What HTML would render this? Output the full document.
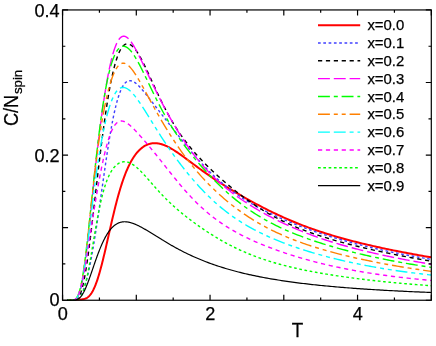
<!DOCTYPE html>
<html><head><meta charset="utf-8"><title>C/N_spin vs T</title>
<style>
html,body{margin:0;padding:0;background:#fff;}
body{width:436px;height:346px;overflow:hidden;}
svg{display:block;will-change:transform;opacity:0.999;}
text{font-family:"Liberation Sans",sans-serif;fill:#000;stroke:#000;stroke-width:0.25px;}
</style></head><body>
<svg width="436" height="346" viewBox="0 0 436 346">
<rect x="0" y="0" width="436" height="346" fill="#fff"/>
<defs><clipPath id="pc"><rect x="62.55" y="9.95" width="368.75" height="290.80"/></clipPath></defs>

<g clip-path="url(#pc)" fill="none" stroke-linejoin="round">
<path d="M66.97 300.25 L67.38 300.25 L67.79 300.25 L68.20 300.25 L68.60 300.25 L69.01 300.24 L69.42 300.24 L69.82 300.24 L70.23 300.23 L70.64 300.22 L71.05 300.20 L71.45 300.19 L71.86 300.17 L72.27 300.14 L72.67 300.12 L73.08 300.09 L73.49 300.06 L73.90 300.03 L74.30 299.99 L74.71 299.96 L75.12 299.92 L75.52 299.89 L75.93 299.85 L76.34 299.82 L76.74 299.78 L77.15 299.75 L77.56 299.72 L77.97 299.69 L78.37 299.66 L78.78 299.63 L79.19 299.61 L79.59 299.58 L80.00 299.55 L80.41 299.52 L80.82 299.49 L81.22 299.46 L81.63 299.42 L82.04 299.37 L82.44 299.32 L82.85 299.26 L83.26 299.19 L83.67 299.11 L84.07 299.01 L84.48 298.90 L84.89 298.77 L85.29 298.63 L85.70 298.46 L86.11 298.28 L86.51 298.07 L86.92 297.83 L87.33 297.57 L87.74 297.28 L88.14 296.97 L88.55 296.62 L88.96 296.24 L89.36 295.83 L89.77 295.38 L90.18 294.90 L90.59 294.38 L90.99 293.82 L91.40 293.22 L91.81 292.59 L92.21 291.91 L92.62 291.19 L93.03 290.43 L93.44 289.64 L93.84 288.79 L94.25 287.91 L94.66 286.99 L95.06 286.02 L95.47 285.01 L95.88 283.96 L96.28 282.87 L96.69 281.73 L97.10 280.56 L97.51 279.35 L97.91 278.09 L98.32 276.80 L98.73 275.48 L99.13 274.11 L99.54 272.71 L99.95 271.28 L100.36 269.82 L100.76 268.32 L101.17 266.79 L101.58 265.23 L101.98 263.65 L102.39 262.04 L102.80 260.41 L103.21 258.75 L103.61 257.07 L104.02 255.37 L104.43 253.66 L104.83 251.93 L105.24 250.18 L105.65 248.42 L106.05 246.65 L106.46 244.87 L106.87 243.08 L107.28 241.29 L107.68 239.49 L108.09 237.69 L108.50 235.88 L108.90 234.08 L109.31 232.28 L109.72 230.48 L110.13 228.68 L110.53 226.90 L110.94 225.12 L111.35 223.34 L111.75 221.58 L112.16 219.83 L112.57 218.09 L112.97 216.37 L113.38 214.65 L113.79 212.96 L114.20 211.28 L114.60 209.62 L115.01 207.98 L115.42 206.35 L115.82 204.75 L116.23 203.16 L116.64 201.60 L117.05 200.06 L117.45 198.54 L117.86 197.05 L118.27 195.57 L118.67 194.12 L119.08 192.70 L119.49 191.29 L119.90 189.92 L120.30 188.56 L120.71 187.23 L121.12 185.93 L121.52 184.65 L121.93 183.40 L122.34 182.17 L122.74 180.96 L123.15 179.78 L123.56 178.63 L123.97 177.50 L124.37 176.39 L124.78 175.31 L125.19 174.25 L125.59 173.21 L126.00 172.20 L126.41 171.21 L126.82 170.25 L127.22 169.30 L127.63 168.38 L128.04 167.48 L128.44 166.61 L128.85 165.75 L129.26 164.92 L129.67 164.11 L130.07 163.31 L130.48 162.54 L130.89 161.79 L131.29 161.06 L131.70 160.34 L132.11 159.65 L132.51 158.97 L132.92 158.32 L133.33 157.68 L133.74 157.05 L134.14 156.45 L134.55 155.86 L134.96 155.29 L135.36 154.74 L135.77 154.20 L136.18 153.68 L136.59 153.17 L136.99 152.68 L137.40 152.20 L137.81 151.74 L138.21 151.29 L138.62 150.86 L139.03 150.44 L139.44 150.04 L139.84 149.65 L140.25 149.27 L140.66 148.90 L141.06 148.55 L141.47 148.21 L141.88 147.89 L142.28 147.57 L142.69 147.27 L143.10 146.98 L143.51 146.70 L143.91 146.44 L144.32 146.18 L144.73 145.94 L145.13 145.71 L145.54 145.49 L145.95 145.28 L146.36 145.08 L146.76 144.89 L147.17 144.72 L147.58 144.55 L147.98 144.39 L148.39 144.24 L148.80 144.11 L149.20 143.98 L149.61 143.86 L150.02 143.76 L150.43 143.66 L150.83 143.57 L151.24 143.49 L151.65 143.42 L152.05 143.36 L152.46 143.31 L152.87 143.26 L153.28 143.23 L153.68 143.20 L154.09 143.19 L154.50 143.18 L154.90 143.17 L155.31 143.18 L155.72 143.20 L156.13 143.22 L156.53 143.25 L156.94 143.29 L157.35 143.33 L157.75 143.39 L158.16 143.45 L158.57 143.52 L158.97 143.59 L159.38 143.67 L159.79 143.76 L160.20 143.86 L160.60 143.96 L161.01 144.07 L161.42 144.18 L161.82 144.30 L162.23 144.43 L162.64 144.56 L163.05 144.70 L163.45 144.85 L163.86 145.00 L164.27 145.15 L164.67 145.32 L165.08 145.48 L165.49 145.66 L165.90 145.83 L166.30 146.01 L166.71 146.20 L167.12 146.39 L167.52 146.59 L167.93 146.79 L168.34 147.00 L168.74 147.21 L169.15 147.42 L169.56 147.64 L169.97 147.86 L170.37 148.08 L170.78 148.31 L171.19 148.55 L171.59 148.78 L172.00 149.02 L172.41 149.27 L172.82 149.51 L173.22 149.76 L173.63 150.01 L174.04 150.27 L174.44 150.53 L174.85 150.79 L175.26 151.05 L175.67 151.32 L176.07 151.58 L176.48 151.85 L176.89 152.13 L177.29 152.40 L177.70 152.68 L178.11 152.96 L178.51 153.24 L178.92 153.52 L179.33 153.80 L179.74 154.09 L180.14 154.37 L180.55 154.66 L182.35 155.96 L184.16 157.27 L185.96 158.60 L187.77 159.94 L189.57 161.28 L191.37 162.63 L193.18 163.97 L194.98 165.31 L196.79 166.64 L198.59 167.96 L200.39 169.28 L202.20 170.58 L204.00 171.86 L205.81 173.14 L207.61 174.40 L209.41 175.64 L211.22 176.88 L213.02 178.10 L214.83 179.30 L216.63 180.49 L218.43 181.67 L220.24 182.84 L222.04 184.00 L223.84 185.14 L225.65 186.27 L227.45 187.39 L229.26 188.50 L231.06 189.60 L232.86 190.69 L234.67 191.78 L236.47 192.85 L238.28 193.91 L240.08 194.96 L241.88 196.00 L243.69 197.04 L245.49 198.06 L247.30 199.08 L249.10 200.09 L250.90 201.08 L252.71 202.07 L254.51 203.05 L256.32 204.02 L258.12 204.98 L259.92 205.93 L261.73 206.87 L263.53 207.80 L265.34 208.72 L267.14 209.63 L268.94 210.53 L270.75 211.42 L272.55 212.30 L274.36 213.17 L276.16 214.02 L277.96 214.87 L279.77 215.70 L281.57 216.53 L283.38 217.34 L285.18 218.14 L286.98 218.94 L288.79 219.72 L290.59 220.49 L292.40 221.25 L294.20 221.99 L296.00 222.73 L297.81 223.46 L299.61 224.17 L301.42 224.88 L303.22 225.57 L305.02 226.25 L306.83 226.93 L308.63 227.59 L310.43 228.25 L312.24 228.89 L314.04 229.52 L315.85 230.15 L317.65 230.76 L319.45 231.37 L321.26 231.97 L323.06 232.56 L324.87 233.14 L326.67 233.71 L328.47 234.27 L330.28 234.82 L332.08 235.37 L333.89 235.91 L335.69 236.44 L337.49 236.96 L339.30 237.48 L341.10 237.99 L342.91 238.49 L344.71 238.99 L346.51 239.48 L348.32 239.96 L350.12 240.44 L351.93 240.91 L353.73 241.37 L355.53 241.83 L357.34 242.28 L359.14 242.73 L360.95 243.17 L362.75 243.61 L364.55 244.04 L366.36 244.47 L368.16 244.89 L369.97 245.31 L371.77 245.72 L373.57 246.13 L375.38 246.54 L377.18 246.94 L378.99 247.33 L380.79 247.72 L382.59 248.11 L384.40 248.49 L386.20 248.87 L388.01 249.25 L389.81 249.62 L391.61 249.99 L393.42 250.36 L395.22 250.72 L397.02 251.08 L398.83 251.44 L400.63 251.79 L402.44 252.14 L404.24 252.49 L406.04 252.83 L407.85 253.17 L409.65 253.51 L411.46 253.84 L413.26 254.17 L415.06 254.50 L416.87 254.83 L418.67 255.15 L420.48 255.48 L422.28 255.79 L424.08 256.11 L425.89 256.42 L427.69 256.74 L429.50 257.04 L431.30 257.35" stroke="#ff0000" stroke-width="2"/>
<path d="M66.97 300.25 L67.38 300.25 L67.79 300.25 L68.20 300.25 L68.60 300.25 L69.01 300.25 L69.42 300.25 L69.82 300.25 L70.23 300.25 L70.64 300.25 L71.05 300.25 L71.45 300.24 L71.86 300.24 L72.27 300.23 L72.67 300.22 L73.08 300.20 L73.49 300.18 L73.90 300.14 L74.30 300.10 L74.71 300.03 L75.12 299.96 L75.52 299.86 L75.93 299.74 L76.34 299.59 L76.74 299.41 L77.15 299.20 L77.56 298.96 L77.97 298.68 L78.37 298.35 L78.78 297.98 L79.19 297.57 L79.59 297.10 L80.00 296.58 L80.41 296.01 L80.82 295.38 L81.22 294.70 L81.63 293.95 L82.04 293.15 L82.44 292.28 L82.85 291.35 L83.26 290.36 L83.67 289.30 L84.07 288.18 L84.48 286.99 L84.89 285.74 L85.29 284.43 L85.70 283.05 L86.11 281.61 L86.51 280.11 L86.92 278.55 L87.33 276.92 L87.74 275.24 L88.14 273.50 L88.55 271.69 L88.96 269.84 L89.36 267.92 L89.77 265.96 L90.18 263.94 L90.59 261.87 L90.99 259.74 L91.40 257.57 L91.81 255.36 L92.21 253.09 L92.62 250.78 L93.03 248.43 L93.44 246.03 L93.84 243.60 L94.25 241.12 L94.66 238.61 L95.06 236.06 L95.47 233.48 L95.88 230.86 L96.28 228.22 L96.69 225.54 L97.10 222.83 L97.51 220.10 L97.91 217.35 L98.32 214.57 L98.73 211.77 L99.13 208.95 L99.54 206.12 L99.95 203.27 L100.36 200.42 L100.76 197.55 L101.17 194.67 L101.58 191.79 L101.98 188.91 L102.39 186.03 L102.80 183.15 L103.21 180.28 L103.61 177.41 L104.02 174.55 L104.43 171.71 L104.83 168.88 L105.24 166.07 L105.65 163.28 L106.05 160.51 L106.46 157.76 L106.87 155.05 L107.28 152.36 L107.68 149.70 L108.09 147.08 L108.50 144.50 L108.90 141.95 L109.31 139.44 L109.72 136.98 L110.13 134.56 L110.53 132.18 L110.94 129.86 L111.35 127.58 L111.75 125.35 L112.16 123.17 L112.57 121.05 L112.97 118.97 L113.38 116.96 L113.79 114.99 L114.20 113.09 L114.60 111.24 L115.01 109.45 L115.42 107.72 L115.82 106.04 L116.23 104.42 L116.64 102.86 L117.05 101.36 L117.45 99.92 L117.86 98.54 L118.27 97.21 L118.67 95.94 L119.08 94.73 L119.49 93.58 L119.90 92.48 L120.30 91.44 L120.71 90.45 L121.12 89.52 L121.52 88.64 L121.93 87.81 L122.34 87.03 L122.74 86.31 L123.15 85.63 L123.56 85.01 L123.97 84.43 L124.37 83.90 L124.78 83.41 L125.19 82.97 L125.59 82.57 L126.00 82.21 L126.41 81.89 L126.82 81.62 L127.22 81.38 L127.63 81.18 L128.04 81.01 L128.44 80.88 L128.85 80.79 L129.26 80.72 L129.67 80.69 L130.07 80.69 L130.48 80.71 L130.89 80.77 L131.29 80.85 L131.70 80.96 L132.11 81.09 L132.51 81.25 L132.92 81.42 L133.33 81.62 L133.74 81.84 L134.14 82.08 L134.55 82.34 L134.96 82.62 L135.36 82.91 L135.77 83.22 L136.18 83.55 L136.59 83.89 L136.99 84.24 L137.40 84.61 L137.81 84.98 L138.21 85.37 L138.62 85.77 L139.03 86.18 L139.44 86.60 L139.84 87.03 L140.25 87.47 L140.66 87.91 L141.06 88.37 L141.47 88.83 L141.88 89.29 L142.28 89.76 L142.69 90.24 L143.10 90.72 L143.51 91.21 L143.91 91.70 L144.32 92.19 L144.73 92.69 L145.13 93.19 L145.54 93.69 L145.95 94.20 L146.36 94.71 L146.76 95.22 L147.17 95.73 L147.58 96.25 L147.98 96.76 L148.39 97.28 L148.80 97.80 L149.20 98.32 L149.61 98.84 L150.02 99.37 L150.43 99.89 L150.83 100.41 L151.24 100.94 L151.65 101.46 L152.05 101.99 L152.46 102.51 L152.87 103.04 L153.28 103.56 L153.68 104.09 L154.09 104.61 L154.50 105.14 L154.90 105.66 L155.31 106.19 L155.72 106.71 L156.13 107.24 L156.53 107.76 L156.94 108.29 L157.35 108.81 L157.75 109.34 L158.16 109.86 L158.57 110.38 L158.97 110.91 L159.38 111.43 L159.79 111.95 L160.20 112.48 L160.60 113.00 L161.01 113.52 L161.42 114.05 L161.82 114.57 L162.23 115.09 L162.64 115.61 L163.05 116.13 L163.45 116.66 L163.86 117.18 L164.27 117.70 L164.67 118.22 L165.08 118.74 L165.49 119.26 L165.90 119.78 L166.30 120.31 L166.71 120.83 L167.12 121.35 L167.52 121.87 L167.93 122.39 L168.34 122.91 L168.74 123.43 L169.15 123.95 L169.56 124.47 L169.97 124.99 L170.37 125.51 L170.78 126.03 L171.19 126.55 L171.59 127.07 L172.00 127.59 L172.41 128.11 L172.82 128.63 L173.22 129.15 L173.63 129.67 L174.04 130.18 L174.44 130.70 L174.85 131.22 L175.26 131.74 L175.67 132.26 L176.07 132.77 L176.48 133.29 L176.89 133.81 L177.29 134.32 L177.70 134.84 L178.11 135.35 L178.51 135.87 L178.92 136.38 L179.33 136.90 L179.74 137.41 L180.14 137.92 L180.55 138.43 L182.35 140.69 L184.16 142.94 L185.96 145.16 L187.77 147.37 L189.57 149.55 L191.37 151.71 L193.18 153.84 L194.98 155.94 L196.79 158.01 L198.59 160.05 L200.39 162.05 L202.20 164.01 L204.00 165.93 L205.81 167.82 L207.61 169.67 L209.41 171.47 L211.22 173.24 L213.02 174.97 L214.83 176.66 L216.63 178.31 L218.43 179.92 L220.24 181.49 L222.04 183.02 L223.84 184.52 L225.65 185.98 L227.45 187.41 L229.26 188.80 L231.06 190.16 L232.86 191.49 L234.67 192.78 L236.47 194.05 L238.28 195.28 L240.08 196.49 L241.88 197.68 L243.69 198.83 L245.49 199.97 L247.30 201.07 L249.10 202.16 L250.90 203.22 L252.71 204.26 L254.51 205.29 L256.32 206.29 L258.12 207.27 L259.92 208.24 L261.73 209.19 L263.53 210.12 L265.34 211.04 L267.14 211.94 L268.94 212.82 L270.75 213.69 L272.55 214.55 L274.36 215.40 L276.16 216.23 L277.96 217.05 L279.77 217.85 L281.57 218.65 L283.38 219.43 L285.18 220.21 L286.98 220.97 L288.79 221.72 L290.59 222.46 L292.40 223.19 L294.20 223.91 L296.00 224.62 L297.81 225.33 L299.61 226.02 L301.42 226.70 L303.22 227.38 L305.02 228.04 L306.83 228.70 L308.63 229.35 L310.43 229.99 L312.24 230.63 L314.04 231.25 L315.85 231.87 L317.65 232.48 L319.45 233.08 L321.26 233.68 L323.06 234.26 L324.87 234.84 L326.67 235.42 L328.47 235.98 L330.28 236.54 L332.08 237.10 L333.89 237.64 L335.69 238.18 L337.49 238.71 L339.30 239.24 L341.10 239.76 L342.91 240.27 L344.71 240.78 L346.51 241.28 L348.32 241.78 L350.12 242.27 L351.93 242.75 L353.73 243.23 L355.53 243.70 L357.34 244.17 L359.14 244.63 L360.95 245.08 L362.75 245.53 L364.55 245.98 L366.36 246.42 L368.16 246.85 L369.97 247.28 L371.77 247.71 L373.57 248.13 L375.38 248.54 L377.18 248.95 L378.99 249.36 L380.79 249.76 L382.59 250.16 L384.40 250.55 L386.20 250.94 L388.01 251.32 L389.81 251.70 L391.61 252.08 L393.42 252.45 L395.22 252.81 L397.02 253.18 L398.83 253.53 L400.63 253.89 L402.44 254.24 L404.24 254.59 L406.04 254.93 L407.85 255.27 L409.65 255.60 L411.46 255.94 L413.26 256.26 L415.06 256.59 L416.87 256.91 L418.67 257.23 L420.48 257.54 L422.28 257.85 L424.08 258.16 L425.89 258.47 L427.69 258.77 L429.50 259.07 L431.30 259.36" stroke="#4040ff" stroke-width="1.4" stroke-dasharray="2.7 2.6"/>
<path d="M66.97 300.25 L67.38 300.25 L67.79 300.25 L68.20 300.25 L68.60 300.25 L69.01 300.25 L69.42 300.25 L69.82 300.25 L70.23 300.25 L70.64 300.25 L71.05 300.25 L71.45 300.24 L71.86 300.24 L72.27 300.23 L72.67 300.22 L73.08 300.19 L73.49 300.16 L73.90 300.12 L74.30 300.06 L74.71 299.97 L75.12 299.87 L75.52 299.73 L75.93 299.55 L76.34 299.33 L76.74 299.06 L77.15 298.74 L77.56 298.36 L77.97 297.91 L78.37 297.40 L78.78 296.80 L79.19 296.12 L79.59 295.35 L80.00 294.48 L80.41 293.52 L80.82 292.46 L81.22 291.29 L81.63 290.02 L82.04 288.64 L82.44 287.14 L82.85 285.53 L83.26 283.81 L83.67 281.98 L84.07 280.04 L84.48 277.98 L84.89 275.82 L85.29 273.55 L85.70 271.17 L86.11 268.70 L86.51 266.12 L86.92 263.46 L87.33 260.71 L87.74 257.87 L88.14 254.95 L88.55 251.95 L88.96 248.89 L89.36 245.76 L89.77 242.57 L90.18 239.32 L90.59 236.03 L90.99 232.69 L91.40 229.31 L91.81 225.90 L92.21 222.45 L92.62 218.98 L93.03 215.49 L93.44 211.97 L93.84 208.45 L94.25 204.92 L94.66 201.38 L95.06 197.84 L95.47 194.30 L95.88 190.76 L96.28 187.23 L96.69 183.71 L97.10 180.20 L97.51 176.71 L97.91 173.24 L98.32 169.79 L98.73 166.36 L99.13 162.95 L99.54 159.57 L99.95 156.22 L100.36 152.90 L100.76 149.61 L101.17 146.36 L101.58 143.14 L101.98 139.95 L102.39 136.81 L102.80 133.70 L103.21 130.64 L103.61 127.62 L104.02 124.64 L104.43 121.71 L104.83 118.83 L105.24 115.99 L105.65 113.21 L106.05 110.47 L106.46 107.78 L106.87 105.15 L107.28 102.56 L107.68 100.04 L108.09 97.56 L108.50 95.14 L108.90 92.78 L109.31 90.47 L109.72 88.22 L110.13 86.03 L110.53 83.90 L110.94 81.82 L111.35 79.80 L111.75 77.85 L112.16 75.95 L112.57 74.10 L112.97 72.32 L113.38 70.60 L113.79 68.93 L114.20 67.33 L114.60 65.78 L115.01 64.29 L115.42 62.86 L115.82 61.49 L116.23 60.17 L116.64 58.91 L117.05 57.71 L117.45 56.56 L117.86 55.47 L118.27 54.43 L118.67 53.44 L119.08 52.51 L119.49 51.63 L119.90 50.81 L120.30 50.03 L120.71 49.31 L121.12 48.63 L121.52 48.00 L121.93 47.42 L122.34 46.89 L122.74 46.40 L123.15 45.96 L123.56 45.56 L123.97 45.21 L124.37 44.90 L124.78 44.63 L125.19 44.40 L125.59 44.21 L126.00 44.07 L126.41 43.96 L126.82 43.88 L127.22 43.85 L127.63 43.85 L128.04 43.88 L128.44 43.95 L128.85 44.05 L129.26 44.19 L129.67 44.35 L130.07 44.55 L130.48 44.77 L130.89 45.03 L131.29 45.31 L131.70 45.62 L132.11 45.96 L132.51 46.32 L132.92 46.71 L133.33 47.13 L133.74 47.56 L134.14 48.02 L134.55 48.50 L134.96 49.01 L135.36 49.53 L135.77 50.08 L136.18 50.64 L136.59 51.22 L136.99 51.82 L137.40 52.44 L137.81 53.07 L138.21 53.72 L138.62 54.39 L139.03 55.07 L139.44 55.76 L139.84 56.47 L140.25 57.19 L140.66 57.93 L141.06 58.67 L141.47 59.43 L141.88 60.20 L142.28 60.97 L142.69 61.76 L143.10 62.56 L143.51 63.36 L143.91 64.17 L144.32 65.00 L144.73 65.82 L145.13 66.66 L145.54 67.50 L145.95 68.35 L146.36 69.20 L146.76 70.06 L147.17 70.92 L147.58 71.78 L147.98 72.65 L148.39 73.53 L148.80 74.40 L149.20 75.28 L149.61 76.16 L150.02 77.04 L150.43 77.93 L150.83 78.81 L151.24 79.70 L151.65 80.58 L152.05 81.47 L152.46 82.36 L152.87 83.24 L153.28 84.13 L153.68 85.01 L154.09 85.90 L154.50 86.78 L154.90 87.66 L155.31 88.54 L155.72 89.42 L156.13 90.29 L156.53 91.16 L156.94 92.03 L157.35 92.90 L157.75 93.76 L158.16 94.62 L158.57 95.48 L158.97 96.33 L159.38 97.18 L159.79 98.03 L160.20 98.87 L160.60 99.71 L161.01 100.54 L161.42 101.37 L161.82 102.20 L162.23 103.02 L162.64 103.83 L163.05 104.64 L163.45 105.45 L163.86 106.25 L164.27 107.04 L164.67 107.83 L165.08 108.62 L165.49 109.40 L165.90 110.18 L166.30 110.95 L166.71 111.71 L167.12 112.47 L167.52 113.22 L167.93 113.97 L168.34 114.72 L168.74 115.45 L169.15 116.19 L169.56 116.91 L169.97 117.64 L170.37 118.35 L170.78 119.06 L171.19 119.77 L171.59 120.47 L172.00 121.16 L172.41 121.85 L172.82 122.54 L173.22 123.21 L173.63 123.89 L174.04 124.55 L174.44 125.22 L174.85 125.87 L175.26 126.53 L175.67 127.17 L176.07 127.82 L176.48 128.45 L176.89 129.08 L177.29 129.71 L177.70 130.33 L178.11 130.95 L178.51 131.56 L178.92 132.17 L179.33 132.77 L179.74 133.37 L180.14 133.96 L180.55 134.55 L182.35 137.11 L184.16 139.58 L185.96 141.97 L187.77 144.29 L189.57 146.54 L191.37 148.72 L193.18 150.85 L194.98 152.92 L196.79 154.94 L198.59 156.92 L200.39 158.85 L202.20 160.74 L204.00 162.60 L205.81 164.42 L207.61 166.22 L209.41 167.98 L211.22 169.72 L213.02 171.43 L214.83 173.12 L216.63 174.78 L218.43 176.43 L220.24 178.05 L222.04 179.65 L223.84 181.22 L225.65 182.78 L227.45 184.32 L229.26 185.84 L231.06 187.33 L232.86 188.81 L234.67 190.26 L236.47 191.70 L238.28 193.11 L240.08 194.50 L241.88 195.88 L243.69 197.23 L245.49 198.55 L247.30 199.86 L249.10 201.14 L250.90 202.40 L252.71 203.64 L254.51 204.86 L256.32 206.05 L258.12 207.23 L259.92 208.37 L261.73 209.50 L263.53 210.61 L265.34 211.69 L267.14 212.75 L268.94 213.79 L270.75 214.81 L272.55 215.81 L274.36 216.79 L276.16 217.75 L277.96 218.68 L279.77 219.60 L281.57 220.50 L283.38 221.38 L285.18 222.24 L286.98 223.08 L288.79 223.91 L290.59 224.72 L292.40 225.51 L294.20 226.28 L296.00 227.04 L297.81 227.79 L299.61 228.52 L301.42 229.23 L303.22 229.93 L305.02 230.62 L306.83 231.29 L308.63 231.95 L310.43 232.60 L312.24 233.24 L314.04 233.86 L315.85 234.48 L317.65 235.08 L319.45 235.68 L321.26 236.26 L323.06 236.83 L324.87 237.40 L326.67 237.95 L328.47 238.50 L330.28 239.04 L332.08 239.57 L333.89 240.09 L335.69 240.61 L337.49 241.11 L339.30 241.61 L341.10 242.11 L342.91 242.60 L344.71 243.08 L346.51 243.55 L348.32 244.02 L350.12 244.49 L351.93 244.94 L353.73 245.40 L355.53 245.84 L357.34 246.29 L359.14 246.73 L360.95 247.16 L362.75 247.59 L364.55 248.01 L366.36 248.43 L368.16 248.85 L369.97 249.26 L371.77 249.66 L373.57 250.07 L375.38 250.47 L377.18 250.86 L378.99 251.25 L380.79 251.64 L382.59 252.02 L384.40 252.41 L386.20 252.78 L388.01 253.16 L389.81 253.53 L391.61 253.89 L393.42 254.26 L395.22 254.62 L397.02 254.97 L398.83 255.33 L400.63 255.68 L402.44 256.02 L404.24 256.37 L406.04 256.71 L407.85 257.05 L409.65 257.38 L411.46 257.71 L413.26 258.04 L415.06 258.37 L416.87 258.69 L418.67 259.01 L420.48 259.33 L422.28 259.64 L424.08 259.95 L425.89 260.26 L427.69 260.57 L429.50 260.87 L431.30 261.17" stroke="#000000" stroke-width="1.4" stroke-dasharray="4.2 3.7"/>
<path d="M66.97 300.25 L67.38 300.25 L67.79 300.25 L68.20 300.25 L68.60 300.25 L69.01 300.25 L69.42 300.25 L69.82 300.25 L70.23 300.25 L70.64 300.25 L71.05 300.25 L71.45 300.24 L71.86 300.23 L72.27 300.22 L72.67 300.19 L73.08 300.16 L73.49 300.11 L73.90 300.03 L74.30 299.93 L74.71 299.80 L75.12 299.62 L75.52 299.40 L75.93 299.12 L76.34 298.77 L76.74 298.35 L77.15 297.84 L77.56 297.25 L77.97 296.56 L78.37 295.76 L78.78 294.84 L79.19 293.81 L79.59 292.65 L80.00 291.36 L80.41 289.94 L80.82 288.37 L81.22 286.66 L81.63 284.82 L82.04 282.82 L82.44 280.69 L82.85 278.41 L83.26 275.99 L83.67 273.43 L84.07 270.74 L84.48 267.92 L84.89 264.97 L85.29 261.90 L85.70 258.72 L86.11 255.43 L86.51 252.05 L86.92 248.57 L87.33 245.00 L87.74 241.36 L88.14 237.65 L88.55 233.87 L88.96 230.05 L89.36 226.18 L89.77 222.27 L90.18 218.33 L90.59 214.37 L90.99 210.39 L91.40 206.41 L91.81 202.42 L92.21 198.44 L92.62 194.46 L93.03 190.51 L93.44 186.57 L93.84 182.65 L94.25 178.77 L94.66 174.91 L95.06 171.10 L95.47 167.32 L95.88 163.58 L96.28 159.88 L96.69 156.23 L97.10 152.62 L97.51 149.06 L97.91 145.55 L98.32 142.09 L98.73 138.69 L99.13 135.33 L99.54 132.02 L99.95 128.77 L100.36 125.57 L100.76 122.42 L101.17 119.33 L101.58 116.29 L101.98 113.30 L102.39 110.37 L102.80 107.49 L103.21 104.67 L103.61 101.90 L104.02 99.18 L104.43 96.52 L104.83 93.91 L105.24 91.36 L105.65 88.86 L106.05 86.42 L106.46 84.04 L106.87 81.71 L107.28 79.44 L107.68 77.23 L108.09 75.07 L108.50 72.97 L108.90 70.93 L109.31 68.95 L109.72 67.03 L110.13 65.16 L110.53 63.36 L110.94 61.61 L111.35 59.93 L111.75 58.31 L112.16 56.74 L112.57 55.24 L112.97 53.79 L113.38 52.41 L113.79 51.09 L114.20 49.82 L114.60 48.62 L115.01 47.48 L115.42 46.39 L115.82 45.37 L116.23 44.40 L116.64 43.49 L117.05 42.64 L117.45 41.85 L117.86 41.11 L118.27 40.43 L118.67 39.80 L119.08 39.23 L119.49 38.71 L119.90 38.24 L120.30 37.82 L120.71 37.46 L121.12 37.14 L121.52 36.87 L121.93 36.66 L122.34 36.48 L122.74 36.36 L123.15 36.27 L123.56 36.23 L123.97 36.23 L124.37 36.28 L124.78 36.36 L125.19 36.48 L125.59 36.64 L126.00 36.84 L126.41 37.07 L126.82 37.33 L127.22 37.63 L127.63 37.95 L128.04 38.31 L128.44 38.70 L128.85 39.12 L129.26 39.56 L129.67 40.03 L130.07 40.52 L130.48 41.04 L130.89 41.58 L131.29 42.14 L131.70 42.73 L132.11 43.33 L132.51 43.95 L132.92 44.59 L133.33 45.24 L133.74 45.92 L134.14 46.60 L134.55 47.30 L134.96 48.02 L135.36 48.75 L135.77 49.49 L136.18 50.24 L136.59 51.00 L136.99 51.77 L137.40 52.55 L137.81 53.34 L138.21 54.13 L138.62 54.94 L139.03 55.75 L139.44 56.56 L139.84 57.39 L140.25 58.21 L140.66 59.05 L141.06 59.88 L141.47 60.72 L141.88 61.57 L142.28 62.41 L142.69 63.26 L143.10 64.12 L143.51 64.97 L143.91 65.82 L144.32 66.68 L144.73 67.54 L145.13 68.40 L145.54 69.26 L145.95 70.12 L146.36 70.98 L146.76 71.84 L147.17 72.70 L147.58 73.56 L147.98 74.41 L148.39 75.27 L148.80 76.13 L149.20 76.98 L149.61 77.84 L150.02 78.69 L150.43 79.54 L150.83 80.39 L151.24 81.24 L151.65 82.09 L152.05 82.93 L152.46 83.77 L152.87 84.61 L153.28 85.45 L153.68 86.29 L154.09 87.12 L154.50 87.95 L154.90 88.78 L155.31 89.61 L155.72 90.43 L156.13 91.25 L156.53 92.07 L156.94 92.89 L157.35 93.71 L157.75 94.52 L158.16 95.33 L158.57 96.13 L158.97 96.94 L159.38 97.74 L159.79 98.54 L160.20 99.33 L160.60 100.13 L161.01 100.92 L161.42 101.70 L161.82 102.49 L162.23 103.27 L162.64 104.05 L163.05 104.83 L163.45 105.60 L163.86 106.37 L164.27 107.14 L164.67 107.91 L165.08 108.67 L165.49 109.43 L165.90 110.18 L166.30 110.94 L166.71 111.69 L167.12 112.44 L167.52 113.18 L167.93 113.92 L168.34 114.66 L168.74 115.40 L169.15 116.13 L169.56 116.86 L169.97 117.59 L170.37 118.31 L170.78 119.03 L171.19 119.75 L171.59 120.46 L172.00 121.18 L172.41 121.88 L172.82 122.59 L173.22 123.29 L173.63 123.99 L174.04 124.69 L174.44 125.38 L174.85 126.07 L175.26 126.76 L175.67 127.44 L176.07 128.12 L176.48 128.80 L176.89 129.47 L177.29 130.14 L177.70 130.81 L178.11 131.47 L178.51 132.14 L178.92 132.79 L179.33 133.45 L179.74 134.10 L180.14 134.75 L180.55 135.39 L182.35 138.21 L184.16 140.96 L185.96 143.64 L187.77 146.26 L189.57 148.81 L191.37 151.30 L193.18 153.72 L194.98 156.08 L196.79 158.37 L198.59 160.61 L200.39 162.78 L202.20 164.89 L204.00 166.94 L205.81 168.93 L207.61 170.87 L209.41 172.76 L211.22 174.60 L213.02 176.38 L214.83 178.12 L216.63 179.82 L218.43 181.47 L220.24 183.08 L222.04 184.65 L223.84 186.18 L225.65 187.68 L227.45 189.14 L229.26 190.57 L231.06 191.97 L232.86 193.33 L234.67 194.67 L236.47 195.99 L238.28 197.27 L240.08 198.54 L241.88 199.78 L243.69 200.99 L245.49 202.19 L247.30 203.36 L249.10 204.51 L250.90 205.65 L252.71 206.76 L254.51 207.86 L256.32 208.94 L258.12 210.00 L259.92 211.04 L261.73 212.07 L263.53 213.09 L265.34 214.08 L267.14 215.07 L268.94 216.03 L270.75 216.99 L272.55 217.92 L274.36 218.85 L276.16 219.76 L277.96 220.65 L279.77 221.54 L281.57 222.41 L283.38 223.26 L285.18 224.11 L286.98 224.94 L288.79 225.76 L290.59 226.56 L292.40 227.35 L294.20 228.14 L296.00 228.90 L297.81 229.66 L299.61 230.41 L301.42 231.14 L303.22 231.86 L305.02 232.58 L306.83 233.28 L308.63 233.97 L310.43 234.65 L312.24 235.32 L314.04 235.97 L315.85 236.62 L317.65 237.26 L319.45 237.89 L321.26 238.51 L323.06 239.12 L324.87 239.72 L326.67 240.31 L328.47 240.90 L330.28 241.47 L332.08 242.04 L333.89 242.60 L335.69 243.15 L337.49 243.69 L339.30 244.22 L341.10 244.75 L342.91 245.27 L344.71 245.78 L346.51 246.28 L348.32 246.78 L350.12 247.27 L351.93 247.76 L353.73 248.23 L355.53 248.71 L357.34 249.17 L359.14 249.63 L360.95 250.08 L362.75 250.53 L364.55 250.97 L366.36 251.41 L368.16 251.84 L369.97 252.26 L371.77 252.68 L373.57 253.10 L375.38 253.51 L377.18 253.91 L378.99 254.31 L380.79 254.71 L382.59 255.10 L384.40 255.49 L386.20 255.87 L388.01 256.25 L389.81 256.62 L391.61 256.99 L393.42 257.36 L395.22 257.72 L397.02 258.08 L398.83 258.43 L400.63 258.78 L402.44 259.13 L404.24 259.48 L406.04 259.82 L407.85 260.15 L409.65 260.49 L411.46 260.82 L413.26 261.14 L415.06 261.47 L416.87 261.79 L418.67 262.10 L420.48 262.42 L422.28 262.73 L424.08 263.04 L425.89 263.34 L427.69 263.65 L429.50 263.95 L431.30 264.24" stroke="#ff00ff" stroke-width="1.4" stroke-dasharray="11.9 3.9" stroke-dashoffset="11.00"/>
<path d="M66.97 300.25 L67.38 300.25 L67.79 300.25 L68.20 300.25 L68.60 300.25 L69.01 300.25 L69.42 300.25 L69.82 300.25 L70.23 300.25 L70.64 300.24 L71.05 300.24 L71.45 300.23 L71.86 300.21 L72.27 300.19 L72.67 300.15 L73.08 300.09 L73.49 300.01 L73.90 299.90 L74.30 299.75 L74.71 299.56 L75.12 299.31 L75.52 299.00 L75.93 298.63 L76.34 298.17 L76.74 297.63 L77.15 297.00 L77.56 296.26 L77.97 295.41 L78.37 294.45 L78.78 293.36 L79.19 292.15 L79.59 290.80 L80.00 289.32 L80.41 287.70 L80.82 285.95 L81.22 284.05 L81.63 282.02 L82.04 279.85 L82.44 277.54 L82.85 275.10 L83.26 272.53 L83.67 269.83 L84.07 267.02 L84.48 264.09 L84.89 261.05 L85.29 257.90 L85.70 254.66 L86.11 251.33 L86.51 247.91 L86.92 244.42 L87.33 240.86 L87.74 237.23 L88.14 233.55 L88.55 229.81 L88.96 226.04 L89.36 222.22 L89.77 218.38 L90.18 214.51 L90.59 210.62 L90.99 206.73 L91.40 202.82 L91.81 198.91 L92.21 195.01 L92.62 191.12 L93.03 187.23 L93.44 183.37 L93.84 179.53 L94.25 175.71 L94.66 171.92 L95.06 168.16 L95.47 164.44 L95.88 160.75 L96.28 157.11 L96.69 153.51 L97.10 149.96 L97.51 146.46 L97.91 143.01 L98.32 139.61 L98.73 136.26 L99.13 132.97 L99.54 129.75 L99.95 126.58 L100.36 123.47 L100.76 120.42 L101.17 117.43 L101.58 114.51 L101.98 111.66 L102.39 108.87 L102.80 106.14 L103.21 103.48 L103.61 100.89 L104.02 98.37 L104.43 95.91 L104.83 93.52 L105.24 91.19 L105.65 88.94 L106.05 86.75 L106.46 84.62 L106.87 82.57 L107.28 80.57 L107.68 78.65 L108.09 76.79 L108.50 74.99 L108.90 73.26 L109.31 71.59 L109.72 69.98 L110.13 68.44 L110.53 66.95 L110.94 65.53 L111.35 64.16 L111.75 62.85 L112.16 61.60 L112.57 60.41 L112.97 59.27 L113.38 58.19 L113.79 57.16 L114.20 56.19 L114.60 55.26 L115.01 54.39 L115.42 53.57 L115.82 52.79 L116.23 52.07 L116.64 51.39 L117.05 50.76 L117.45 50.18 L117.86 49.64 L118.27 49.14 L118.67 48.69 L119.08 48.27 L119.49 47.90 L119.90 47.57 L120.30 47.28 L120.71 47.03 L121.12 46.82 L121.52 46.64 L121.93 46.50 L122.34 46.40 L122.74 46.32 L123.15 46.29 L123.56 46.28 L123.97 46.31 L124.37 46.37 L124.78 46.47 L125.19 46.59 L125.59 46.74 L126.00 46.92 L126.41 47.12 L126.82 47.36 L127.22 47.62 L127.63 47.91 L128.04 48.22 L128.44 48.56 L128.85 48.92 L129.26 49.30 L129.67 49.71 L130.07 50.14 L130.48 50.59 L130.89 51.06 L131.29 51.55 L131.70 52.06 L132.11 52.59 L132.51 53.13 L132.92 53.70 L133.33 54.28 L133.74 54.88 L134.14 55.49 L134.55 56.12 L134.96 56.76 L135.36 57.42 L135.77 58.09 L136.18 58.77 L136.59 59.47 L136.99 60.18 L137.40 60.89 L137.81 61.62 L138.21 62.36 L138.62 63.11 L139.03 63.87 L139.44 64.64 L139.84 65.41 L140.25 66.19 L140.66 66.98 L141.06 67.78 L141.47 68.59 L141.88 69.39 L142.28 70.21 L142.69 71.03 L143.10 71.85 L143.51 72.68 L143.91 73.51 L144.32 74.35 L144.73 75.19 L145.13 76.03 L145.54 76.88 L145.95 77.72 L146.36 78.57 L146.76 79.42 L147.17 80.27 L147.58 81.12 L147.98 81.97 L148.39 82.83 L148.80 83.68 L149.20 84.53 L149.61 85.38 L150.02 86.23 L150.43 87.08 L150.83 87.93 L151.24 88.77 L151.65 89.62 L152.05 90.46 L152.46 91.30 L152.87 92.14 L153.28 92.98 L153.68 93.81 L154.09 94.64 L154.50 95.47 L154.90 96.29 L155.31 97.11 L155.72 97.93 L156.13 98.75 L156.53 99.56 L156.94 100.36 L157.35 101.17 L157.75 101.97 L158.16 102.76 L158.57 103.56 L158.97 104.34 L159.38 105.13 L159.79 105.91 L160.20 106.68 L160.60 107.46 L161.01 108.22 L161.42 108.99 L161.82 109.74 L162.23 110.50 L162.64 111.25 L163.05 111.99 L163.45 112.73 L163.86 113.47 L164.27 114.20 L164.67 114.93 L165.08 115.65 L165.49 116.37 L165.90 117.09 L166.30 117.80 L166.71 118.50 L167.12 119.20 L167.52 119.90 L167.93 120.59 L168.34 121.28 L168.74 121.96 L169.15 122.64 L169.56 123.32 L169.97 123.99 L170.37 124.66 L170.78 125.32 L171.19 125.98 L171.59 126.63 L172.00 127.28 L172.41 127.93 L172.82 128.57 L173.22 129.21 L173.63 129.85 L174.04 130.48 L174.44 131.10 L174.85 131.73 L175.26 132.35 L175.67 132.96 L176.07 133.58 L176.48 134.19 L176.89 134.79 L177.29 135.40 L177.70 135.99 L178.11 136.59 L178.51 137.18 L178.92 137.77 L179.33 138.36 L179.74 138.94 L180.14 139.52 L180.55 140.10 L182.35 142.62 L184.16 145.08 L185.96 147.49 L187.77 149.85 L189.57 152.17 L191.37 154.44 L193.18 156.67 L194.98 158.87 L196.79 161.02 L198.59 163.14 L200.39 165.23 L202.20 167.28 L204.00 169.30 L205.81 171.29 L207.61 173.25 L209.41 175.17 L211.22 177.07 L213.02 178.93 L214.83 180.76 L216.63 182.57 L218.43 184.34 L220.24 186.08 L222.04 187.78 L223.84 189.46 L225.65 191.11 L227.45 192.73 L229.26 194.31 L231.06 195.86 L232.86 197.39 L234.67 198.88 L236.47 200.34 L238.28 201.77 L240.08 203.17 L241.88 204.54 L243.69 205.88 L245.49 207.20 L247.30 208.48 L249.10 209.73 L250.90 210.96 L252.71 212.16 L254.51 213.34 L256.32 214.48 L258.12 215.60 L259.92 216.70 L261.73 217.77 L263.53 218.82 L265.34 219.84 L267.14 220.85 L268.94 221.83 L270.75 222.79 L272.55 223.72 L274.36 224.64 L276.16 225.54 L277.96 226.42 L279.77 227.28 L281.57 228.13 L283.38 228.96 L285.18 229.77 L286.98 230.56 L288.79 231.34 L290.59 232.11 L292.40 232.86 L294.20 233.59 L296.00 234.32 L297.81 235.03 L299.61 235.72 L301.42 236.41 L303.22 237.08 L305.02 237.74 L306.83 238.40 L308.63 239.04 L310.43 239.67 L312.24 240.29 L314.04 240.90 L315.85 241.50 L317.65 242.09 L319.45 242.68 L321.26 243.25 L323.06 243.82 L324.87 244.38 L326.67 244.93 L328.47 245.48 L330.28 246.01 L332.08 246.54 L333.89 247.06 L335.69 247.58 L337.49 248.08 L339.30 248.59 L341.10 249.08 L342.91 249.57 L344.71 250.05 L346.51 250.53 L348.32 251.00 L350.12 251.46 L351.93 251.92 L353.73 252.37 L355.53 252.82 L357.34 253.26 L359.14 253.70 L360.95 254.13 L362.75 254.55 L364.55 254.97 L366.36 255.39 L368.16 255.80 L369.97 256.20 L371.77 256.60 L373.57 257.00 L375.38 257.39 L377.18 257.77 L378.99 258.15 L380.79 258.53 L382.59 258.90 L384.40 259.27 L386.20 259.63 L388.01 259.99 L389.81 260.34 L391.61 260.69 L393.42 261.04 L395.22 261.38 L397.02 261.71 L398.83 262.04 L400.63 262.37 L402.44 262.70 L404.24 263.02 L406.04 263.33 L407.85 263.64 L409.65 263.95 L411.46 264.26 L413.26 264.56 L415.06 264.85 L416.87 265.15 L418.67 265.44 L420.48 265.72 L422.28 266.01 L424.08 266.28 L425.89 266.56 L427.69 266.83 L429.50 267.10 L431.30 267.37" stroke="#00ff00" stroke-width="1.4" stroke-dasharray="11.9 3.9 4 3.8" stroke-dashoffset="14.56"/>
<path d="M66.97 300.25 L67.38 300.25 L67.79 300.25 L68.20 300.25 L68.60 300.25 L69.01 300.25 L69.42 300.25 L69.82 300.25 L70.23 300.25 L70.64 300.25 L71.05 300.24 L71.45 300.24 L71.86 300.22 L72.27 300.21 L72.67 300.18 L73.08 300.13 L73.49 300.07 L73.90 299.98 L74.30 299.86 L74.71 299.69 L75.12 299.49 L75.52 299.22 L75.93 298.89 L76.34 298.49 L76.74 298.00 L77.15 297.42 L77.56 296.74 L77.97 295.95 L78.37 295.04 L78.78 294.01 L79.19 292.86 L79.59 291.56 L80.00 290.13 L80.41 288.56 L80.82 286.84 L81.22 284.98 L81.63 282.97 L82.04 280.82 L82.44 278.52 L82.85 276.08 L83.26 273.50 L83.67 270.79 L84.07 267.95 L84.48 264.99 L84.89 261.91 L85.29 258.73 L85.70 255.44 L86.11 252.06 L86.51 248.60 L86.92 245.05 L87.33 241.44 L87.74 237.78 L88.14 234.06 L88.55 230.30 L88.96 226.51 L89.36 222.69 L89.77 218.86 L90.18 215.02 L90.59 211.18 L90.99 207.35 L91.40 203.53 L91.81 199.73 L92.21 195.96 L92.62 192.22 L93.03 188.52 L93.44 184.85 L93.84 181.24 L94.25 177.67 L94.66 174.15 L95.06 170.69 L95.47 167.28 L95.88 163.93 L96.28 160.64 L96.69 157.42 L97.10 154.25 L97.51 151.15 L97.91 148.12 L98.32 145.14 L98.73 142.23 L99.13 139.38 L99.54 136.59 L99.95 133.87 L100.36 131.21 L100.76 128.61 L101.17 126.07 L101.58 123.58 L101.98 121.16 L102.39 118.79 L102.80 116.48 L103.21 114.23 L103.61 112.03 L104.02 109.89 L104.43 107.80 L104.83 105.76 L105.24 103.78 L105.65 101.84 L106.05 99.96 L106.46 98.13 L106.87 96.35 L107.28 94.62 L107.68 92.94 L108.09 91.31 L108.50 89.73 L108.90 88.20 L109.31 86.71 L109.72 85.27 L110.13 83.89 L110.53 82.55 L110.94 81.25 L111.35 80.01 L111.75 78.81 L112.16 77.66 L112.57 76.55 L112.97 75.50 L113.38 74.48 L113.79 73.52 L114.20 72.60 L114.60 71.73 L115.01 70.90 L115.42 70.12 L115.82 69.38 L116.23 68.68 L116.64 68.03 L117.05 67.43 L117.45 66.87 L117.86 66.34 L118.27 65.87 L118.67 65.43 L119.08 65.03 L119.49 64.68 L119.90 64.36 L120.30 64.09 L120.71 63.85 L121.12 63.65 L121.52 63.48 L121.93 63.36 L122.34 63.27 L122.74 63.21 L123.15 63.19 L123.56 63.20 L123.97 63.24 L124.37 63.31 L124.78 63.42 L125.19 63.55 L125.59 63.72 L126.00 63.91 L126.41 64.13 L126.82 64.38 L127.22 64.65 L127.63 64.95 L128.04 65.27 L128.44 65.61 L128.85 65.98 L129.26 66.36 L129.67 66.77 L130.07 67.20 L130.48 67.65 L130.89 68.12 L131.29 68.60 L131.70 69.10 L132.11 69.62 L132.51 70.15 L132.92 70.70 L133.33 71.26 L133.74 71.83 L134.14 72.42 L134.55 73.02 L134.96 73.63 L135.36 74.25 L135.77 74.88 L136.18 75.53 L136.59 76.18 L136.99 76.84 L137.40 77.50 L137.81 78.18 L138.21 78.86 L138.62 79.55 L139.03 80.24 L139.44 80.95 L139.84 81.65 L140.25 82.36 L140.66 83.08 L141.06 83.80 L141.47 84.52 L141.88 85.25 L142.28 85.98 L142.69 86.71 L143.10 87.45 L143.51 88.19 L143.91 88.93 L144.32 89.67 L144.73 90.41 L145.13 91.16 L145.54 91.90 L145.95 92.65 L146.36 93.40 L146.76 94.14 L147.17 94.89 L147.58 95.64 L147.98 96.39 L148.39 97.14 L148.80 97.88 L149.20 98.63 L149.61 99.38 L150.02 100.12 L150.43 100.87 L150.83 101.61 L151.24 102.36 L151.65 103.10 L152.05 103.84 L152.46 104.58 L152.87 105.32 L153.28 106.05 L153.68 106.79 L154.09 107.52 L154.50 108.25 L154.90 108.98 L155.31 109.71 L155.72 110.44 L156.13 111.16 L156.53 111.88 L156.94 112.61 L157.35 113.32 L157.75 114.04 L158.16 114.76 L158.57 115.47 L158.97 116.18 L159.38 116.89 L159.79 117.59 L160.20 118.29 L160.60 119.00 L161.01 119.70 L161.42 120.39 L161.82 121.09 L162.23 121.78 L162.64 122.47 L163.05 123.15 L163.45 123.84 L163.86 124.52 L164.27 125.20 L164.67 125.88 L165.08 126.55 L165.49 127.23 L165.90 127.90 L166.30 128.56 L166.71 129.23 L167.12 129.89 L167.52 130.55 L167.93 131.21 L168.34 131.86 L168.74 132.52 L169.15 133.17 L169.56 133.81 L169.97 134.46 L170.37 135.10 L170.78 135.74 L171.19 136.38 L171.59 137.01 L172.00 137.64 L172.41 138.27 L172.82 138.90 L173.22 139.52 L173.63 140.14 L174.04 140.76 L174.44 141.37 L174.85 141.99 L175.26 142.60 L175.67 143.21 L176.07 143.81 L176.48 144.41 L176.89 145.01 L177.29 145.61 L177.70 146.21 L178.11 146.80 L178.51 147.39 L178.92 147.97 L179.33 148.56 L179.74 149.14 L180.14 149.72 L180.55 150.30 L182.35 152.82 L184.16 155.29 L185.96 157.71 L187.77 160.08 L189.57 162.40 L191.37 164.68 L193.18 166.90 L194.98 169.08 L196.79 171.22 L198.59 173.31 L200.39 175.35 L202.20 177.36 L204.00 179.32 L205.81 181.24 L207.61 183.12 L209.41 184.96 L211.22 186.77 L213.02 188.53 L214.83 190.27 L216.63 191.96 L218.43 193.63 L220.24 195.26 L222.04 196.85 L223.84 198.42 L225.65 199.95 L227.45 201.46 L229.26 202.93 L231.06 204.37 L232.86 205.79 L234.67 207.17 L236.47 208.53 L238.28 209.86 L240.08 211.17 L241.88 212.45 L243.69 213.70 L245.49 214.92 L247.30 216.13 L249.10 217.30 L250.90 218.45 L252.71 219.58 L254.51 220.69 L256.32 221.77 L258.12 222.83 L259.92 223.87 L261.73 224.88 L263.53 225.88 L265.34 226.85 L267.14 227.81 L268.94 228.74 L270.75 229.66 L272.55 230.55 L274.36 231.43 L276.16 232.29 L277.96 233.13 L279.77 233.96 L281.57 234.76 L283.38 235.56 L285.18 236.33 L286.98 237.09 L288.79 237.84 L290.59 238.57 L292.40 239.29 L294.20 239.99 L296.00 240.68 L297.81 241.35 L299.61 242.02 L301.42 242.67 L303.22 243.31 L305.02 243.94 L306.83 244.55 L308.63 245.16 L310.43 245.76 L312.24 246.34 L314.04 246.92 L315.85 247.48 L317.65 248.04 L319.45 248.59 L321.26 249.12 L323.06 249.65 L324.87 250.18 L326.67 250.69 L328.47 251.19 L330.28 251.69 L332.08 252.18 L333.89 252.67 L335.69 253.14 L337.49 253.61 L339.30 254.07 L341.10 254.53 L342.91 254.98 L344.71 255.42 L346.51 255.86 L348.32 256.29 L350.12 256.72 L351.93 257.14 L353.73 257.55 L355.53 257.96 L357.34 258.37 L359.14 258.77 L360.95 259.16 L362.75 259.55 L364.55 259.93 L366.36 260.31 L368.16 260.69 L369.97 261.06 L371.77 261.42 L373.57 261.79 L375.38 262.14 L377.18 262.50 L378.99 262.84 L380.79 263.19 L382.59 263.53 L384.40 263.87 L386.20 264.20 L388.01 264.53 L389.81 264.85 L391.61 265.17 L393.42 265.49 L395.22 265.80 L397.02 266.11 L398.83 266.42 L400.63 266.72 L402.44 267.02 L404.24 267.32 L406.04 267.61 L407.85 267.90 L409.65 268.18 L411.46 268.46 L413.26 268.74 L415.06 269.02 L416.87 269.29 L418.67 269.56 L420.48 269.83 L422.28 270.09 L424.08 270.35 L425.89 270.61 L427.69 270.86 L429.50 271.11 L431.30 271.36" stroke="#ff8000" stroke-width="1.4" stroke-dasharray="11.9 3.9 4 3.9 4 3.9" stroke-dashoffset="24.93"/>
<path d="M66.97 300.25 L67.38 300.25 L67.79 300.25 L68.20 300.25 L68.60 300.25 L69.01 300.25 L69.42 300.25 L69.82 300.25 L70.23 300.25 L70.64 300.24 L71.05 300.24 L71.45 300.23 L71.86 300.22 L72.27 300.19 L72.67 300.16 L73.08 300.10 L73.49 300.03 L73.90 299.93 L74.30 299.79 L74.71 299.62 L75.12 299.39 L75.52 299.11 L75.93 298.77 L76.34 298.36 L76.74 297.86 L77.15 297.28 L77.56 296.61 L77.97 295.83 L78.37 294.94 L78.78 293.95 L79.19 292.83 L79.59 291.60 L80.00 290.23 L80.41 288.75 L80.82 287.13 L81.22 285.38 L81.63 283.51 L82.04 281.51 L82.44 279.38 L82.85 277.14 L83.26 274.77 L83.67 272.29 L84.07 269.70 L84.48 267.01 L84.89 264.22 L85.29 261.33 L85.70 258.37 L86.11 255.33 L86.51 252.21 L86.92 249.04 L87.33 245.81 L87.74 242.54 L88.14 239.23 L88.55 235.88 L88.96 232.51 L89.36 229.13 L89.77 225.73 L90.18 222.33 L90.59 218.93 L90.99 215.54 L91.40 212.16 L91.81 208.81 L92.21 205.47 L92.62 202.16 L93.03 198.89 L93.44 195.64 L93.84 192.44 L94.25 189.27 L94.66 186.15 L95.06 183.08 L95.47 180.05 L95.88 177.06 L96.28 174.13 L96.69 171.25 L97.10 168.42 L97.51 165.63 L97.91 162.91 L98.32 160.23 L98.73 157.61 L99.13 155.04 L99.54 152.52 L99.95 150.05 L100.36 147.64 L100.76 145.27 L101.17 142.96 L101.58 140.71 L101.98 138.50 L102.39 136.34 L102.80 134.24 L103.21 132.18 L103.61 130.18 L104.02 128.23 L104.43 126.32 L104.83 124.47 L105.24 122.66 L105.65 120.91 L106.05 119.20 L106.46 117.55 L106.87 115.94 L107.28 114.38 L107.68 112.87 L108.09 111.41 L108.50 109.99 L108.90 108.62 L109.31 107.30 L109.72 106.03 L110.13 104.80 L110.53 103.62 L110.94 102.49 L111.35 101.40 L111.75 100.36 L112.16 99.37 L112.57 98.42 L112.97 97.51 L113.38 96.64 L113.79 95.82 L114.20 95.05 L114.60 94.31 L115.01 93.62 L115.42 92.96 L115.82 92.35 L116.23 91.78 L116.64 91.25 L117.05 90.75 L117.45 90.29 L117.86 89.87 L118.27 89.49 L118.67 89.14 L119.08 88.83 L119.49 88.55 L119.90 88.30 L120.30 88.09 L120.71 87.91 L121.12 87.76 L121.52 87.64 L121.93 87.55 L122.34 87.48 L122.74 87.45 L123.15 87.44 L123.56 87.47 L123.97 87.51 L124.37 87.58 L124.78 87.68 L125.19 87.80 L125.59 87.94 L126.00 88.11 L126.41 88.29 L126.82 88.50 L127.22 88.73 L127.63 88.98 L128.04 89.24 L128.44 89.53 L128.85 89.83 L129.26 90.15 L129.67 90.49 L130.07 90.84 L130.48 91.21 L130.89 91.60 L131.29 91.99 L131.70 92.41 L132.11 92.83 L132.51 93.27 L132.92 93.72 L133.33 94.18 L133.74 94.65 L134.14 95.14 L134.55 95.63 L134.96 96.14 L135.36 96.65 L135.77 97.18 L136.18 97.71 L136.59 98.25 L136.99 98.80 L137.40 99.36 L137.81 99.93 L138.21 100.50 L138.62 101.08 L139.03 101.66 L139.44 102.25 L139.84 102.85 L140.25 103.45 L140.66 104.06 L141.06 104.67 L141.47 105.28 L141.88 105.90 L142.28 106.53 L142.69 107.16 L143.10 107.79 L143.51 108.42 L143.91 109.06 L144.32 109.70 L144.73 110.35 L145.13 110.99 L145.54 111.64 L145.95 112.29 L146.36 112.94 L146.76 113.59 L147.17 114.25 L147.58 114.90 L147.98 115.56 L148.39 116.22 L148.80 116.88 L149.20 117.53 L149.61 118.19 L150.02 118.85 L150.43 119.51 L150.83 120.17 L151.24 120.83 L151.65 121.49 L152.05 122.15 L152.46 122.81 L152.87 123.47 L153.28 124.13 L153.68 124.78 L154.09 125.44 L154.50 126.09 L154.90 126.75 L155.31 127.40 L155.72 128.05 L156.13 128.70 L156.53 129.35 L156.94 130.00 L157.35 130.64 L157.75 131.29 L158.16 131.93 L158.57 132.58 L158.97 133.22 L159.38 133.85 L159.79 134.49 L160.20 135.13 L160.60 135.76 L161.01 136.39 L161.42 137.02 L161.82 137.65 L162.23 138.27 L162.64 138.90 L163.05 139.52 L163.45 140.14 L163.86 140.76 L164.27 141.37 L164.67 141.99 L165.08 142.60 L165.49 143.21 L165.90 143.82 L166.30 144.42 L166.71 145.03 L167.12 145.63 L167.52 146.23 L167.93 146.83 L168.34 147.42 L168.74 148.02 L169.15 148.61 L169.56 149.20 L169.97 149.78 L170.37 150.37 L170.78 150.95 L171.19 151.53 L171.59 152.11 L172.00 152.69 L172.41 153.26 L172.82 153.83 L173.22 154.40 L173.63 154.97 L174.04 155.54 L174.44 156.10 L174.85 156.66 L175.26 157.22 L175.67 157.78 L176.07 158.34 L176.48 158.89 L176.89 159.44 L177.29 159.99 L177.70 160.54 L178.11 161.09 L178.51 161.63 L178.92 162.17 L179.33 162.71 L179.74 163.25 L180.14 163.78 L180.55 164.32 L182.35 166.66 L184.16 168.96 L185.96 171.22 L187.77 173.44 L189.57 175.63 L191.37 177.78 L193.18 179.88 L194.98 181.95 L196.79 183.99 L198.59 185.98 L200.39 187.93 L202.20 189.85 L204.00 191.72 L205.81 193.56 L207.61 195.36 L209.41 197.12 L211.22 198.84 L213.02 200.52 L214.83 202.16 L216.63 203.77 L218.43 205.34 L220.24 206.87 L222.04 208.36 L223.84 209.82 L225.65 211.25 L227.45 212.63 L229.26 213.99 L231.06 215.31 L232.86 216.60 L234.67 217.85 L236.47 219.08 L238.28 220.27 L240.08 221.44 L241.88 222.58 L243.69 223.69 L245.49 224.77 L247.30 225.83 L249.10 226.86 L250.90 227.87 L252.71 228.86 L254.51 229.82 L256.32 230.76 L258.12 231.68 L259.92 232.58 L261.73 233.47 L263.53 234.33 L265.34 235.18 L267.14 236.00 L268.94 236.82 L270.75 237.61 L272.55 238.39 L274.36 239.16 L276.16 239.91 L277.96 240.65 L279.77 241.37 L281.57 242.09 L283.38 242.79 L285.18 243.47 L286.98 244.15 L288.79 244.81 L290.59 245.47 L292.40 246.11 L294.20 246.74 L296.00 247.36 L297.81 247.98 L299.61 248.58 L301.42 249.17 L303.22 249.76 L305.02 250.34 L306.83 250.90 L308.63 251.46 L310.43 252.01 L312.24 252.55 L314.04 253.09 L315.85 253.61 L317.65 254.13 L319.45 254.64 L321.26 255.15 L323.06 255.64 L324.87 256.13 L326.67 256.61 L328.47 257.09 L330.28 257.56 L332.08 258.02 L333.89 258.47 L335.69 258.92 L337.49 259.36 L339.30 259.79 L341.10 260.22 L342.91 260.64 L344.71 261.06 L346.51 261.47 L348.32 261.87 L350.12 262.27 L351.93 262.66 L353.73 263.05 L355.53 263.43 L357.34 263.80 L359.14 264.17 L360.95 264.53 L362.75 264.89 L364.55 265.24 L366.36 265.58 L368.16 265.92 L369.97 266.26 L371.77 266.59 L373.57 266.92 L375.38 267.24 L377.18 267.55 L378.99 267.86 L380.79 268.17 L382.59 268.47 L384.40 268.76 L386.20 269.06 L388.01 269.34 L389.81 269.62 L391.61 269.90 L393.42 270.18 L395.22 270.45 L397.02 270.71 L398.83 270.97 L400.63 271.23 L402.44 271.48 L404.24 271.73 L406.04 271.98 L407.85 272.22 L409.65 272.45 L411.46 272.69 L413.26 272.92 L415.06 273.14 L416.87 273.37 L418.67 273.58 L420.48 273.80 L422.28 274.01 L424.08 274.22 L425.89 274.43 L427.69 274.63 L429.50 274.83 L431.30 275.03" stroke="#00ffff" stroke-width="1.4" stroke-dasharray="11.9 3.9 4 3.9 4 3.9" stroke-dashoffset="26.22"/>
<path d="M66.97 300.25 L67.38 300.25 L67.79 300.25 L68.20 300.25 L68.60 300.25 L69.01 300.25 L69.42 300.25 L69.82 300.25 L70.23 300.25 L70.64 300.24 L71.05 300.24 L71.45 300.22 L71.86 300.20 L72.27 300.17 L72.67 300.13 L73.08 300.07 L73.49 299.98 L73.90 299.87 L74.30 299.72 L74.71 299.52 L75.12 299.28 L75.52 298.99 L75.93 298.63 L76.34 298.21 L76.74 297.71 L77.15 297.13 L77.56 296.47 L77.97 295.73 L78.37 294.88 L78.78 293.95 L79.19 292.91 L79.59 291.77 L80.00 290.54 L80.41 289.20 L80.82 287.76 L81.22 286.22 L81.63 284.58 L82.04 282.85 L82.44 281.02 L82.85 279.11 L83.26 277.11 L83.67 275.02 L84.07 272.87 L84.48 270.64 L84.89 268.34 L85.29 265.99 L85.70 263.58 L86.11 261.12 L86.51 258.61 L86.92 256.07 L87.33 253.50 L87.74 250.90 L88.14 248.27 L88.55 245.63 L88.96 242.98 L89.36 240.32 L89.77 237.65 L90.18 234.98 L90.59 232.31 L90.99 229.65 L91.40 227.00 L91.81 224.36 L92.21 221.73 L92.62 219.11 L93.03 216.52 L93.44 213.94 L93.84 211.38 L94.25 208.84 L94.66 206.32 L95.06 203.83 L95.47 201.36 L95.88 198.91 L96.28 196.50 L96.69 194.10 L97.10 191.74 L97.51 189.40 L97.91 187.09 L98.32 184.80 L98.73 182.55 L99.13 180.33 L99.54 178.14 L99.95 175.98 L100.36 173.85 L100.76 171.75 L101.17 169.69 L101.58 167.67 L101.98 165.68 L102.39 163.72 L102.80 161.81 L103.21 159.93 L103.61 158.09 L104.02 156.29 L104.43 154.54 L104.83 152.82 L105.24 151.15 L105.65 149.52 L106.05 147.93 L106.46 146.39 L106.87 144.90 L107.28 143.45 L107.68 142.05 L108.09 140.69 L108.50 139.38 L108.90 138.12 L109.31 136.91 L109.72 135.75 L110.13 134.63 L110.53 133.56 L110.94 132.54 L111.35 131.57 L111.75 130.64 L112.16 129.77 L112.57 128.93 L112.97 128.15 L113.38 127.41 L113.79 126.72 L114.20 126.07 L114.60 125.46 L115.01 124.90 L115.42 124.38 L115.82 123.90 L116.23 123.46 L116.64 123.07 L117.05 122.71 L117.45 122.39 L117.86 122.10 L118.27 121.85 L118.67 121.64 L119.08 121.46 L119.49 121.31 L119.90 121.19 L120.30 121.10 L120.71 121.05 L121.12 121.02 L121.52 121.01 L121.93 121.04 L122.34 121.09 L122.74 121.16 L123.15 121.25 L123.56 121.37 L123.97 121.51 L124.37 121.67 L124.78 121.84 L125.19 122.04 L125.59 122.25 L126.00 122.48 L126.41 122.72 L126.82 122.98 L127.22 123.25 L127.63 123.54 L128.04 123.83 L128.44 124.14 L128.85 124.46 L129.26 124.79 L129.67 125.13 L130.07 125.48 L130.48 125.84 L130.89 126.20 L131.29 126.58 L131.70 126.96 L132.11 127.34 L132.51 127.74 L132.92 128.13 L133.33 128.54 L133.74 128.95 L134.14 129.36 L134.55 129.78 L134.96 130.20 L135.36 130.63 L135.77 131.06 L136.18 131.49 L136.59 131.93 L136.99 132.36 L137.40 132.81 L137.81 133.25 L138.21 133.70 L138.62 134.15 L139.03 134.60 L139.44 135.05 L139.84 135.51 L140.25 135.96 L140.66 136.42 L141.06 136.88 L141.47 137.34 L141.88 137.81 L142.28 138.27 L142.69 138.74 L143.10 139.21 L143.51 139.68 L143.91 140.15 L144.32 140.62 L144.73 141.09 L145.13 141.57 L145.54 142.04 L145.95 142.52 L146.36 143.00 L146.76 143.48 L147.17 143.96 L147.58 144.44 L147.98 144.92 L148.39 145.40 L148.80 145.89 L149.20 146.38 L149.61 146.86 L150.02 147.35 L150.43 147.84 L150.83 148.33 L151.24 148.82 L151.65 149.32 L152.05 149.81 L152.46 150.30 L152.87 150.80 L153.28 151.30 L153.68 151.80 L154.09 152.30 L154.50 152.80 L154.90 153.30 L155.31 153.80 L155.72 154.30 L156.13 154.81 L156.53 155.31 L156.94 155.82 L157.35 156.32 L157.75 156.83 L158.16 157.34 L158.57 157.85 L158.97 158.36 L159.38 158.87 L159.79 159.38 L160.20 159.89 L160.60 160.40 L161.01 160.91 L161.42 161.42 L161.82 161.94 L162.23 162.45 L162.64 162.97 L163.05 163.48 L163.45 163.99 L163.86 164.51 L164.27 165.02 L164.67 165.54 L165.08 166.05 L165.49 166.57 L165.90 167.08 L166.30 167.60 L166.71 168.11 L167.12 168.63 L167.52 169.14 L167.93 169.66 L168.34 170.17 L168.74 170.68 L169.15 171.20 L169.56 171.71 L169.97 172.22 L170.37 172.73 L170.78 173.24 L171.19 173.75 L171.59 174.26 L172.00 174.77 L172.41 175.28 L172.82 175.79 L173.22 176.29 L173.63 176.80 L174.04 177.30 L174.44 177.81 L174.85 178.31 L175.26 178.81 L175.67 179.31 L176.07 179.81 L176.48 180.31 L176.89 180.80 L177.29 181.30 L177.70 181.79 L178.11 182.28 L178.51 182.78 L178.92 183.26 L179.33 183.75 L179.74 184.24 L180.14 184.72 L180.55 185.21 L182.35 187.33 L184.16 189.41 L185.96 191.46 L187.77 193.47 L189.57 195.44 L191.37 197.37 L193.18 199.26 L194.98 201.10 L196.79 202.89 L198.59 204.65 L200.39 206.35 L202.20 208.02 L204.00 209.64 L205.81 211.22 L207.61 212.75 L209.41 214.25 L211.22 215.70 L213.02 217.11 L214.83 218.49 L216.63 219.82 L218.43 221.12 L220.24 222.39 L222.04 223.62 L223.84 224.82 L225.65 225.99 L227.45 227.12 L229.26 228.23 L231.06 229.31 L232.86 230.37 L234.67 231.39 L236.47 232.40 L238.28 233.37 L240.08 234.33 L241.88 235.27 L243.69 236.18 L245.49 237.08 L247.30 237.95 L249.10 238.81 L250.90 239.65 L252.71 240.48 L254.51 241.28 L256.32 242.08 L258.12 242.85 L259.92 243.62 L261.73 244.37 L263.53 245.10 L265.34 245.83 L267.14 246.54 L268.94 247.24 L270.75 247.93 L272.55 248.61 L274.36 249.27 L276.16 249.93 L277.96 250.57 L279.77 251.21 L281.57 251.84 L283.38 252.45 L285.18 253.06 L286.98 253.66 L288.79 254.25 L290.59 254.83 L292.40 255.40 L294.20 255.96 L296.00 256.51 L297.81 257.06 L299.61 257.60 L301.42 258.13 L303.22 258.65 L305.02 259.16 L306.83 259.67 L308.63 260.17 L310.43 260.66 L312.24 261.14 L314.04 261.62 L315.85 262.09 L317.65 262.55 L319.45 263.01 L321.26 263.45 L323.06 263.89 L324.87 264.33 L326.67 264.75 L328.47 265.18 L330.28 265.59 L332.08 266.00 L333.89 266.40 L335.69 266.79 L337.49 267.18 L339.30 267.56 L341.10 267.93 L342.91 268.30 L344.71 268.67 L346.51 269.02 L348.32 269.38 L350.12 269.72 L351.93 270.06 L353.73 270.39 L355.53 270.72 L357.34 271.05 L359.14 271.36 L360.95 271.68 L362.75 271.98 L364.55 272.28 L366.36 272.58 L368.16 272.87 L369.97 273.16 L371.77 273.44 L373.57 273.72 L375.38 273.99 L377.18 274.26 L378.99 274.52 L380.79 274.78 L382.59 275.03 L384.40 275.28 L386.20 275.53 L388.01 275.77 L389.81 276.00 L391.61 276.24 L393.42 276.46 L395.22 276.69 L397.02 276.91 L398.83 277.13 L400.63 277.34 L402.44 277.55 L404.24 277.76 L406.04 277.96 L407.85 278.16 L409.65 278.35 L411.46 278.55 L413.26 278.74 L415.06 278.92 L416.87 279.10 L418.67 279.28 L420.48 279.46 L422.28 279.63 L424.08 279.80 L425.89 279.97 L427.69 280.14 L429.50 280.30 L431.30 280.46" stroke="#ff00ff" stroke-width="1.4" stroke-dasharray="4.2 3.7" stroke-dashoffset="2.04"/>
<path d="M66.97 300.25 L67.38 300.25 L67.79 300.25 L68.20 300.25 L68.60 300.25 L69.01 300.25 L69.42 300.25 L69.82 300.25 L70.23 300.25 L70.64 300.25 L71.05 300.25 L71.45 300.25 L71.86 300.25 L72.27 300.25 L72.67 300.24 L73.08 300.24 L73.49 300.23 L73.90 300.21 L74.30 300.19 L74.71 300.16 L75.12 300.12 L75.52 300.07 L75.93 300.00 L76.34 299.90 L76.74 299.78 L77.15 299.64 L77.56 299.46 L77.97 299.24 L78.37 298.98 L78.78 298.67 L79.19 298.31 L79.59 297.89 L80.00 297.41 L80.41 296.87 L80.82 296.25 L81.22 295.57 L81.63 294.81 L82.04 293.97 L82.44 293.05 L82.85 292.05 L83.26 290.96 L83.67 289.79 L84.07 288.53 L84.48 287.19 L84.89 285.76 L85.29 284.25 L85.70 282.66 L86.11 280.99 L86.51 279.24 L86.92 277.41 L87.33 275.51 L87.74 273.55 L88.14 271.52 L88.55 269.42 L88.96 267.28 L89.36 265.08 L89.77 262.83 L90.18 260.54 L90.59 258.22 L90.99 255.86 L91.40 253.48 L91.81 251.07 L92.21 248.65 L92.62 246.22 L93.03 243.79 L93.44 241.35 L93.84 238.92 L94.25 236.50 L94.66 234.09 L95.06 231.70 L95.47 229.33 L95.88 226.98 L96.28 224.67 L96.69 222.39 L97.10 220.14 L97.51 217.93 L97.91 215.77 L98.32 213.64 L98.73 211.57 L99.13 209.53 L99.54 207.55 L99.95 205.62 L100.36 203.74 L100.76 201.91 L101.17 200.13 L101.58 198.41 L101.98 196.73 L102.39 195.11 L102.80 193.55 L103.21 192.03 L103.61 190.56 L104.02 189.15 L104.43 187.79 L104.83 186.47 L105.24 185.21 L105.65 183.99 L106.05 182.82 L106.46 181.69 L106.87 180.60 L107.28 179.56 L107.68 178.57 L108.09 177.61 L108.50 176.69 L108.90 175.81 L109.31 174.96 L109.72 174.15 L110.13 173.38 L110.53 172.64 L110.94 171.93 L111.35 171.25 L111.75 170.60 L112.16 169.99 L112.57 169.40 L112.97 168.83 L113.38 168.30 L113.79 167.79 L114.20 167.30 L114.60 166.84 L115.01 166.40 L115.42 165.99 L115.82 165.60 L116.23 165.23 L116.64 164.88 L117.05 164.55 L117.45 164.24 L117.86 163.95 L118.27 163.68 L118.67 163.43 L119.08 163.20 L119.49 162.98 L119.90 162.78 L120.30 162.61 L120.71 162.44 L121.12 162.30 L121.52 162.17 L121.93 162.06 L122.34 161.97 L122.74 161.89 L123.15 161.83 L123.56 161.78 L123.97 161.75 L124.37 161.73 L124.78 161.73 L125.19 161.74 L125.59 161.77 L126.00 161.82 L126.41 161.87 L126.82 161.95 L127.22 162.03 L127.63 162.13 L128.04 162.24 L128.44 162.37 L128.85 162.51 L129.26 162.66 L129.67 162.83 L130.07 163.00 L130.48 163.19 L130.89 163.39 L131.29 163.61 L131.70 163.83 L132.11 164.07 L132.51 164.32 L132.92 164.57 L133.33 164.84 L133.74 165.12 L134.14 165.41 L134.55 165.70 L134.96 166.01 L135.36 166.33 L135.77 166.65 L136.18 166.99 L136.59 167.33 L136.99 167.68 L137.40 168.03 L137.81 168.40 L138.21 168.77 L138.62 169.15 L139.03 169.53 L139.44 169.92 L139.84 170.32 L140.25 170.72 L140.66 171.13 L141.06 171.55 L141.47 171.96 L141.88 172.39 L142.28 172.81 L142.69 173.25 L143.10 173.68 L143.51 174.12 L143.91 174.56 L144.32 175.01 L144.73 175.45 L145.13 175.90 L145.54 176.36 L145.95 176.81 L146.36 177.27 L146.76 177.73 L147.17 178.19 L147.58 178.65 L147.98 179.11 L148.39 179.58 L148.80 180.04 L149.20 180.51 L149.61 180.98 L150.02 181.44 L150.43 181.91 L150.83 182.37 L151.24 182.84 L151.65 183.31 L152.05 183.77 L152.46 184.24 L152.87 184.70 L153.28 185.17 L153.68 185.63 L154.09 186.09 L154.50 186.55 L154.90 187.01 L155.31 187.47 L155.72 187.93 L156.13 188.38 L156.53 188.84 L156.94 189.29 L157.35 189.74 L157.75 190.19 L158.16 190.64 L158.57 191.08 L158.97 191.53 L159.38 191.97 L159.79 192.41 L160.20 192.85 L160.60 193.28 L161.01 193.72 L161.42 194.15 L161.82 194.58 L162.23 195.01 L162.64 195.43 L163.05 195.86 L163.45 196.28 L163.86 196.70 L164.27 197.11 L164.67 197.53 L165.08 197.94 L165.49 198.35 L165.90 198.76 L166.30 199.17 L166.71 199.57 L167.12 199.97 L167.52 200.37 L167.93 200.77 L168.34 201.16 L168.74 201.56 L169.15 201.95 L169.56 202.34 L169.97 202.72 L170.37 203.11 L170.78 203.49 L171.19 203.87 L171.59 204.25 L172.00 204.63 L172.41 205.00 L172.82 205.37 L173.22 205.74 L173.63 206.11 L174.04 206.48 L174.44 206.84 L174.85 207.21 L175.26 207.57 L175.67 207.93 L176.07 208.28 L176.48 208.64 L176.89 208.99 L177.29 209.35 L177.70 209.70 L178.11 210.05 L178.51 210.39 L178.92 210.74 L179.33 211.08 L179.74 211.43 L180.14 211.77 L180.55 212.11 L182.35 213.59 L184.16 215.05 L185.96 216.49 L187.77 217.90 L189.57 219.28 L191.37 220.64 L193.18 221.98 L194.98 223.30 L196.79 224.61 L198.59 225.89 L200.39 227.15 L202.20 228.39 L204.00 229.62 L205.81 230.82 L207.61 232.01 L209.41 233.18 L211.22 234.33 L213.02 235.46 L214.83 236.57 L216.63 237.66 L218.43 238.73 L220.24 239.79 L222.04 240.82 L223.84 241.83 L225.65 242.83 L227.45 243.80 L229.26 244.76 L231.06 245.69 L232.86 246.61 L234.67 247.50 L236.47 248.38 L238.28 249.23 L240.08 250.07 L241.88 250.89 L243.69 251.69 L245.49 252.47 L247.30 253.23 L249.10 253.98 L250.90 254.71 L252.71 255.42 L254.51 256.11 L256.32 256.79 L258.12 257.45 L259.92 258.09 L261.73 258.72 L263.53 259.34 L265.34 259.94 L267.14 260.52 L268.94 261.09 L270.75 261.65 L272.55 262.20 L274.36 262.73 L276.16 263.25 L277.96 263.76 L279.77 264.26 L281.57 264.75 L283.38 265.22 L285.18 265.69 L286.98 266.14 L288.79 266.59 L290.59 267.03 L292.40 267.45 L294.20 267.87 L296.00 268.28 L297.81 268.68 L299.61 269.08 L301.42 269.46 L303.22 269.84 L305.02 270.21 L306.83 270.58 L308.63 270.93 L310.43 271.29 L312.24 271.63 L314.04 271.97 L315.85 272.30 L317.65 272.63 L319.45 272.95 L321.26 273.26 L323.06 273.57 L324.87 273.88 L326.67 274.18 L328.47 274.47 L330.28 274.76 L332.08 275.05 L333.89 275.33 L335.69 275.61 L337.49 275.88 L339.30 276.15 L341.10 276.41 L342.91 276.67 L344.71 276.93 L346.51 277.18 L348.32 277.43 L350.12 277.67 L351.93 277.92 L353.73 278.15 L355.53 278.39 L357.34 278.62 L359.14 278.85 L360.95 279.07 L362.75 279.29 L364.55 279.51 L366.36 279.72 L368.16 279.93 L369.97 280.14 L371.77 280.35 L373.57 280.55 L375.38 280.75 L377.18 280.95 L378.99 281.14 L380.79 281.33 L382.59 281.52 L384.40 281.71 L386.20 281.89 L388.01 282.07 L389.81 282.25 L391.61 282.42 L393.42 282.60 L395.22 282.77 L397.02 282.93 L398.83 283.10 L400.63 283.26 L402.44 283.43 L404.24 283.58 L406.04 283.74 L407.85 283.90 L409.65 284.05 L411.46 284.20 L413.26 284.35 L415.06 284.49 L416.87 284.64 L418.67 284.78 L420.48 284.92 L422.28 285.06 L424.08 285.19 L425.89 285.33 L427.69 285.46 L429.50 285.59 L431.30 285.72" stroke="#00ff00" stroke-width="1.4" stroke-dasharray="2.7 2.6"/>
<path d="M66.97 300.25 L67.38 300.25 L67.79 300.25 L68.20 300.25 L68.60 300.25 L69.01 300.25 L69.42 300.25 L69.82 300.25 L70.23 300.25 L70.64 300.25 L71.05 300.25 L71.45 300.25 L71.86 300.24 L72.27 300.24 L72.67 300.23 L73.08 300.22 L73.49 300.21 L73.90 300.18 L74.30 300.15 L74.71 300.11 L75.12 300.06 L75.52 299.99 L75.93 299.90 L76.34 299.79 L76.74 299.66 L77.15 299.51 L77.56 299.33 L77.97 299.12 L78.37 298.88 L78.78 298.60 L79.19 298.29 L79.59 297.94 L80.00 297.55 L80.41 297.13 L80.82 296.66 L81.22 296.16 L81.63 295.61 L82.04 295.03 L82.44 294.40 L82.85 293.73 L83.26 293.03 L83.67 292.28 L84.07 291.50 L84.48 290.68 L84.89 289.82 L85.29 288.94 L85.70 288.02 L86.11 287.06 L86.51 286.08 L86.92 285.08 L87.33 284.04 L87.74 282.99 L88.14 281.91 L88.55 280.81 L88.96 279.70 L89.36 278.57 L89.77 277.42 L90.18 276.27 L90.59 275.10 L90.99 273.92 L91.40 272.74 L91.81 271.55 L92.21 270.36 L92.62 269.17 L93.03 267.97 L93.44 266.78 L93.84 265.59 L94.25 264.41 L94.66 263.23 L95.06 262.05 L95.47 260.89 L95.88 259.73 L96.28 258.58 L96.69 257.45 L97.10 256.33 L97.51 255.22 L97.91 254.12 L98.32 253.04 L98.73 251.97 L99.13 250.92 L99.54 249.89 L99.95 248.87 L100.36 247.87 L100.76 246.89 L101.17 245.93 L101.58 244.99 L101.98 244.06 L102.39 243.16 L102.80 242.27 L103.21 241.41 L103.61 240.56 L104.02 239.74 L104.43 238.94 L104.83 238.15 L105.24 237.39 L105.65 236.65 L106.05 235.93 L106.46 235.23 L106.87 234.54 L107.28 233.88 L107.68 233.24 L108.09 232.62 L108.50 232.02 L108.90 231.44 L109.31 230.88 L109.72 230.34 L110.13 229.82 L110.53 229.32 L110.94 228.84 L111.35 228.37 L111.75 227.93 L112.16 227.50 L112.57 227.09 L112.97 226.70 L113.38 226.32 L113.79 225.96 L114.20 225.62 L114.60 225.30 L115.01 224.99 L115.42 224.70 L115.82 224.42 L116.23 224.16 L116.64 223.92 L117.05 223.69 L117.45 223.47 L117.86 223.27 L118.27 223.08 L118.67 222.91 L119.08 222.75 L119.49 222.60 L119.90 222.47 L120.30 222.35 L120.71 222.24 L121.12 222.14 L121.52 222.05 L121.93 221.98 L122.34 221.91 L122.74 221.86 L123.15 221.82 L123.56 221.79 L123.97 221.77 L124.37 221.76 L124.78 221.75 L125.19 221.76 L125.59 221.78 L126.00 221.80 L126.41 221.84 L126.82 221.88 L127.22 221.93 L127.63 221.99 L128.04 222.05 L128.44 222.13 L128.85 222.21 L129.26 222.30 L129.67 222.39 L130.07 222.49 L130.48 222.60 L130.89 222.71 L131.29 222.83 L131.70 222.96 L132.11 223.09 L132.51 223.23 L132.92 223.37 L133.33 223.52 L133.74 223.67 L134.14 223.83 L134.55 223.99 L134.96 224.16 L135.36 224.33 L135.77 224.50 L136.18 224.68 L136.59 224.86 L136.99 225.05 L137.40 225.24 L137.81 225.43 L138.21 225.63 L138.62 225.83 L139.03 226.03 L139.44 226.24 L139.84 226.45 L140.25 226.66 L140.66 226.87 L141.06 227.09 L141.47 227.31 L141.88 227.53 L142.28 227.75 L142.69 227.98 L143.10 228.21 L143.51 228.44 L143.91 228.67 L144.32 228.90 L144.73 229.14 L145.13 229.37 L145.54 229.61 L145.95 229.85 L146.36 230.09 L146.76 230.33 L147.17 230.58 L147.58 230.82 L147.98 231.06 L148.39 231.31 L148.80 231.56 L149.20 231.80 L149.61 232.05 L150.02 232.30 L150.43 232.55 L150.83 232.80 L151.24 233.05 L151.65 233.30 L152.05 233.55 L152.46 233.81 L152.87 234.06 L153.28 234.31 L153.68 234.56 L154.09 234.82 L154.50 235.07 L154.90 235.32 L155.31 235.58 L155.72 235.83 L156.13 236.08 L156.53 236.34 L156.94 236.59 L157.35 236.84 L157.75 237.09 L158.16 237.35 L158.57 237.60 L158.97 237.85 L159.38 238.10 L159.79 238.35 L160.20 238.61 L160.60 238.86 L161.01 239.11 L161.42 239.36 L161.82 239.61 L162.23 239.85 L162.64 240.10 L163.05 240.35 L163.45 240.60 L163.86 240.84 L164.27 241.09 L164.67 241.34 L165.08 241.58 L165.49 241.83 L165.90 242.07 L166.30 242.31 L166.71 242.55 L167.12 242.80 L167.52 243.04 L167.93 243.28 L168.34 243.52 L168.74 243.75 L169.15 243.99 L169.56 244.23 L169.97 244.47 L170.37 244.70 L170.78 244.94 L171.19 245.17 L171.59 245.40 L172.00 245.64 L172.41 245.87 L172.82 246.10 L173.22 246.33 L173.63 246.56 L174.04 246.78 L174.44 247.01 L174.85 247.24 L175.26 247.46 L175.67 247.69 L176.07 247.91 L176.48 248.13 L176.89 248.35 L177.29 248.57 L177.70 248.79 L178.11 249.01 L178.51 249.23 L178.92 249.45 L179.33 249.66 L179.74 249.88 L180.14 250.09 L180.55 250.31 L182.35 251.24 L184.16 252.16 L185.96 253.05 L187.77 253.93 L189.57 254.79 L191.37 255.63 L193.18 256.45 L194.98 257.26 L196.79 258.05 L198.59 258.82 L200.39 259.57 L202.20 260.31 L204.00 261.02 L205.81 261.73 L207.61 262.41 L209.41 263.09 L211.22 263.74 L213.02 264.38 L214.83 265.01 L216.63 265.62 L218.43 266.22 L220.24 266.80 L222.04 267.37 L223.84 267.93 L225.65 268.48 L227.45 269.01 L229.26 269.53 L231.06 270.04 L232.86 270.54 L234.67 271.02 L236.47 271.50 L238.28 271.96 L240.08 272.42 L241.88 272.86 L243.69 273.30 L245.49 273.72 L247.30 274.14 L249.10 274.54 L250.90 274.94 L252.71 275.33 L254.51 275.71 L256.32 276.08 L258.12 276.45 L259.92 276.81 L261.73 277.15 L263.53 277.50 L265.34 277.83 L267.14 278.16 L268.94 278.48 L270.75 278.80 L272.55 279.10 L274.36 279.41 L276.16 279.70 L277.96 279.99 L279.77 280.28 L281.57 280.55 L283.38 280.83 L285.18 281.09 L286.98 281.36 L288.79 281.61 L290.59 281.86 L292.40 282.11 L294.20 282.35 L296.00 282.59 L297.81 282.82 L299.61 283.05 L301.42 283.28 L303.22 283.50 L305.02 283.71 L306.83 283.93 L308.63 284.13 L310.43 284.34 L312.24 284.54 L314.04 284.74 L315.85 284.93 L317.65 285.12 L319.45 285.30 L321.26 285.49 L323.06 285.67 L324.87 285.84 L326.67 286.02 L328.47 286.19 L330.28 286.36 L332.08 286.52 L333.89 286.68 L335.69 286.84 L337.49 287.00 L339.30 287.15 L341.10 287.30 L342.91 287.45 L344.71 287.60 L346.51 287.74 L348.32 287.88 L350.12 288.02 L351.93 288.16 L353.73 288.29 L355.53 288.42 L357.34 288.55 L359.14 288.68 L360.95 288.81 L362.75 288.93 L364.55 289.05 L366.36 289.17 L368.16 289.29 L369.97 289.41 L371.77 289.52 L373.57 289.63 L375.38 289.75 L377.18 289.86 L378.99 289.96 L380.79 290.07 L382.59 290.17 L384.40 290.28 L386.20 290.38 L388.01 290.48 L389.81 290.58 L391.61 290.67 L393.42 290.77 L395.22 290.86 L397.02 290.95 L398.83 291.05 L400.63 291.14 L402.44 291.22 L404.24 291.31 L406.04 291.40 L407.85 291.48 L409.65 291.57 L411.46 291.65 L413.26 291.73 L415.06 291.81 L416.87 291.89 L418.67 291.97 L420.48 292.04 L422.28 292.12 L424.08 292.20 L425.89 292.27 L427.69 292.34 L429.50 292.41 L431.30 292.49" stroke="#000000" stroke-width="1.2"/>
</g>
<g stroke="#000" stroke-width="1.2" fill="none">
<rect x="62.55" y="9.95" width="368.75" height="290.30"/>
<path d="M62.55 300.25 v-5.50 M62.55 9.95 v5.50"/>
<path d="M99.42 300.25 v-2.80 M99.42 9.95 v2.80"/>
<path d="M136.30 300.25 v-5.50 M136.30 9.95 v5.50"/>
<path d="M173.18 300.25 v-2.80 M173.18 9.95 v2.80"/>
<path d="M210.05 300.25 v-5.50 M210.05 9.95 v5.50"/>
<path d="M246.93 300.25 v-2.80 M246.93 9.95 v2.80"/>
<path d="M283.80 300.25 v-5.50 M283.80 9.95 v5.50"/>
<path d="M320.68 300.25 v-2.80 M320.68 9.95 v2.80"/>
<path d="M357.55 300.25 v-5.50 M357.55 9.95 v5.50"/>
<path d="M394.43 300.25 v-2.80 M394.43 9.95 v2.80"/>
<path d="M431.30 300.25 v-5.50 M431.30 9.95 v5.50"/>
<path d="M62.55 300.25 h5.50 M431.30 300.25 h-5.50"/>
<path d="M62.55 263.96 h2.80 M431.30 263.96 h-2.80"/>
<path d="M62.55 227.68 h5.50 M431.30 227.68 h-5.50"/>
<path d="M62.55 191.39 h2.80 M431.30 191.39 h-2.80"/>
<path d="M62.55 155.10 h5.50 M431.30 155.10 h-5.50"/>
<path d="M62.55 118.81 h2.80 M431.30 118.81 h-2.80"/>
<path d="M62.55 82.52 h5.50 M431.30 82.52 h-5.50"/>
<path d="M62.55 46.24 h2.80 M431.30 46.24 h-2.80"/>
<path d="M62.55 9.95 h5.50 M431.30 9.95 h-5.50"/>
</g>
<text x="62.75" y="319.50" font-size="18.1" text-anchor="middle">0</text>
<text x="210.25" y="319.50" font-size="18.1" text-anchor="middle">2</text>
<text x="357.75" y="319.50" font-size="18.1" text-anchor="middle">4</text>
<text x="59.60" y="306.35" font-size="18.1" text-anchor="end">0</text>
<text x="59.60" y="161.95" font-size="18.1" text-anchor="end">0.2</text>
<text x="59.60" y="16.55" font-size="18.1" text-anchor="end">0.4</text>
<text transform="translate(297.50 336.90) scale(0.95 1)" font-size="19.8" text-anchor="middle">T</text>
<text transform="translate(17.90 126.00) rotate(-90) scale(0.915 1)" font-size="19.8">C/N</text>
<text transform="translate(22.40 94.10) rotate(-90) scale(0.97 1)" font-size="13.7">spin</text>
<path d="M318.00 25.15 H360.20" fill="none" stroke="#ff0000" stroke-width="2"/>
<text x="367.40" y="30.25" font-size="14.9">x=0.0</text>
<path d="M318.00 42.98 H360.20" fill="none" stroke="#4040ff" stroke-width="1.4" stroke-dasharray="2.7 2.6"/>
<text x="367.40" y="48.08" font-size="14.9">x=0.1</text>
<path d="M318.00 60.81 H360.20" fill="none" stroke="#000000" stroke-width="1.4" stroke-dasharray="4.2 3.7"/>
<text x="367.40" y="65.91" font-size="14.9">x=0.2</text>
<path d="M318.00 78.64 H360.20" fill="none" stroke="#ff00ff" stroke-width="1.4" stroke-dasharray="11.9 3.9"/>
<text x="367.40" y="83.74" font-size="14.9">x=0.3</text>
<path d="M318.00 96.47 H360.20" fill="none" stroke="#00ff00" stroke-width="1.4" stroke-dasharray="11.9 3.9 4 3.8"/>
<text x="367.40" y="101.57" font-size="14.9">x=0.4</text>
<path d="M318.00 114.30 H360.20" fill="none" stroke="#ff8000" stroke-width="1.4" stroke-dasharray="11.9 3.9 4 3.9 4 3.9"/>
<text x="367.40" y="119.40" font-size="14.9">x=0.5</text>
<path d="M318.00 132.13 H360.20" fill="none" stroke="#00ffff" stroke-width="1.4" stroke-dasharray="11.9 3.9 11.9 3.9 4 3.9 4 3.9"/>
<text x="367.40" y="137.23" font-size="14.9">x=0.6</text>
<path d="M318.00 149.96 H360.20" fill="none" stroke="#ff00ff" stroke-width="1.4" stroke-dasharray="4.2 3.7"/>
<text x="367.40" y="155.06" font-size="14.9">x=0.7</text>
<path d="M318.00 167.79 H360.20" fill="none" stroke="#00ff00" stroke-width="1.4" stroke-dasharray="2.7 2.6"/>
<text x="367.40" y="172.89" font-size="14.9">x=0.8</text>
<path d="M318.00 185.62 H360.20" fill="none" stroke="#000000" stroke-width="1.2"/>
<text x="367.40" y="190.72" font-size="14.9">x=0.9</text>
</svg></body></html>
